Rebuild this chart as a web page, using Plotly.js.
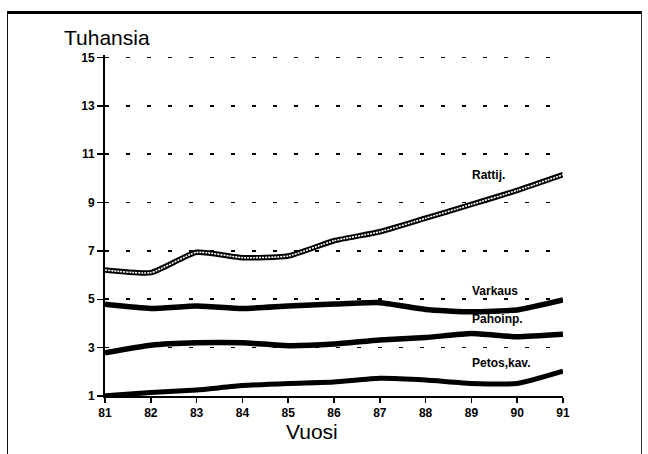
<!DOCTYPE html>
<html>
<head>
<meta charset="utf-8">
<script src="https://cdn.plot.ly/plotly-3.0.1.min.js"></script>
<style>
  html, body { margin: 0; padding: 0; background: #fff; }
  #wrap { position: relative; width: 648px; height: 454px; overflow: hidden; }
  #chart { position: absolute; left: 0; top: 0; width: 648px; height: 454px; }
  #frame { position: absolute; left: 7px; top: 11px; width: 633px; height: 460px;
           border-top: 3px solid #000; border-left: 1.5px solid #111; border-right: 1px solid #333;
           pointer-events: none; z-index: 5; }
</style>
</head>
<body>
<div id="wrap">
  <div id="chart"></div>
  <div id="frame"></div>
</div>
<script>
// Data (thousands)
const years = [81, 82, 83, 84, 85, 86, 87, 88, 89, 90, 91];
const yTicks = [1, 3, 5, 7, 9, 11, 13, 15];
const rattij   = [6.21, 6.10, 6.94, 6.72, 6.79, 7.42, 7.79, 8.35, 8.92, 9.50, 10.15];
const varkaus  = [4.79, 4.62, 4.72, 4.62, 4.72, 4.80, 4.86, 4.58, 4.48, 4.56, 4.97];
const pahoinp  = [2.79, 3.10, 3.20, 3.20, 3.08, 3.15, 3.32, 3.42, 3.58, 3.45, 3.55];
const petos    = [1.01, 1.14, 1.25, 1.43, 1.52, 1.58, 1.73, 1.66, 1.52, 1.52, 2.03];
const seriesNames = ['Rattij.', 'Varkaus', 'Pahoinp.', 'Petos,kav.'];
const labelPos = [ // label anchor in data coords (year, value)
  [88.98, 10.14], [88.98, 5.36], [88.98, 4.2], [88.98, 2.36]
];

const FONT = 'Liberation Sans, Arial, Helvetica, sans-serif';
const line = (y, w, color, dash) => ({
  x: years, y: y, type: 'scatter', mode: 'lines', hoverinfo: 'skip',
  line: { color: color, width: w, dash: dash || 'solid', shape: 'spline', smoothing: 0.5 },
  showlegend: false
});

const data = [
  line(petos, 5, '#000'),
  line(pahoinp, 5.5, '#000'),
  line(varkaus, 5.5, '#000'),
  line(rattij, 5.5, '#000'),
  line(rattij, 1.6, '#fff', '2px,1px')
];

const annotations = seriesNames.map((n, i) => ({
  x: labelPos[i][0], y: labelPos[i][1], xref: 'x', yref: 'y',
  text: n, showarrow: false, xanchor: 'left', yanchor: 'middle',
  font: { family: FONT, size: 12, color: '#000', weight: 'bold' }
}));
annotations.push({
  x: -0.093, y: 1.012, xref: 'paper', yref: 'paper', xanchor: 'left', yanchor: 'bottom',
  text: 'Tuhansia', showarrow: false,
  font: { family: FONT, size: 21, color: '#000' }
});
annotations.push({
  x: 0.451, y: -0.103, xref: 'paper', yref: 'paper', xanchor: 'center', yanchor: 'middle',
  text: 'Vuosi', showarrow: false,
  font: { family: FONT, size: 21, color: '#000' }
});

const layout = {
  width: 648, height: 454,
  margin: { l: 105, r: 85, t: 55, b: 58 },
  paper_bgcolor: '#fff', plot_bgcolor: '#fff',
  showlegend: false,
  xaxis: {
    range: [81, 91], tickvals: years, ticktext: years.map(String),
    showline: true, linecolor: '#000', linewidth: 2,
    ticks: 'outside', ticklen: 5, tickwidth: 1.5, tickcolor: '#000',
    showgrid: false, zeroline: false,
    tickfont: { family: FONT, size: 12, color: '#000', weight: 'bold' }
  },
  yaxis: {
    range: [1, 15.1], tickvals: yTicks, ticktext: yTicks.map(String),
    showline: true, linecolor: '#000', linewidth: 2,
    ticks: 'outside', ticklen: 6, tickwidth: 1.5, tickcolor: '#000',
    showgrid: true, gridcolor: '#000', gridwidth: 1.6, griddash: '4px,17px',
    zeroline: false,
    tickfont: { family: FONT, size: 12, color: '#000', weight: 'bold' }
  },
  annotations: annotations
};

Plotly.newPlot('chart', data, layout, { displayModeBar: false, staticPlot: true });
</script>
</body>
</html>
